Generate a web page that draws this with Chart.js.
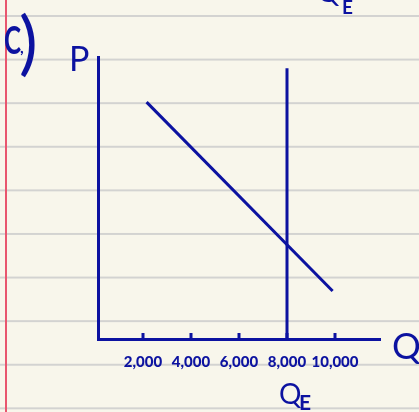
<!DOCTYPE html>
<html lang="en">
<head>
    <meta charset="UTF-8">
    <title>Q_E</title>
    <script src="https://cdn.jsdelivr.net/npm/chart.js"></script>
    <style>
        html, body {
            margin: 0;
            padding: 0;
            width: 419px;
            height: 412px;
            overflow: hidden;
        }
        body {
            background-color: #f8f6eb;
            /* red margin line + ruled lines of the notebook page */
            background-image:
                linear-gradient(to right, transparent 5px, #e8566e 5px, #e8566e 7px, transparent 7px),
                linear-gradient(to bottom, #d3d3d1 0, #d3d3d1 2px, transparent 2px);
            background-size: 100% 100%, 100% 43.6px;
            background-position: 0 0, 0 15px;
            background-repeat: no-repeat, repeat-y;
        }
        #chart {
            position: absolute;
            left: 0;
            top: 0;
        }
    </style>
</head>
<body>
<canvas id="chart" width="419" height="412"></canvas>

<script>
// tick values on the quantity axis
const qTicks = [2000, 4000, 6000, 8000, 10000];

// demand line (no price numbers on the axis, price read as 0-100)
const demandQ = [2150, 9900];
const demandP = [84, 17];

// equilibrium quantity, drawn as a vertical line
const qE = 8000;
const qELineP = [0, 96];

const blue = "#0c12a0";

// small tick marks sitting on top of the Q axis
const tickMarks = {
    id: "tickMarks",
    afterDatasetsDraw(chart) {
        const ctx = chart.ctx;
        const x = chart.scales.x;
        const bottom = chart.chartArea.bottom;
        ctx.save();
        ctx.strokeStyle = blue;
        ctx.lineWidth = 3;
        qTicks.forEach(v => {
            const px = x.getPixelForValue(v);
            ctx.beginPath();
            ctx.moveTo(px, bottom - 6);
            ctx.lineTo(px, bottom);
            ctx.stroke();
        });
        ctx.restore();
    }
};

// hand written labels round the graph
const labels = {
    id: "labels",
    afterDraw(chart) {
        const ctx = chart.ctx;
        const x = chart.scales.x;
        const area = chart.chartArea;
        const qEx = x.getPixelForValue(qE);
        ctx.save();
        ctx.fillStyle = blue;
        ctx.textBaseline = "alphabetic";
        ctx.textAlign = "left";

        // "C,)" squeezed like the hand writing
        ctx.save();
        ctx.translate(4, 54);
        ctx.scale(0.68, 1);
        ctx.font = "bold 38px Lato";
        ctx.fillText("C", 0, 0);
        ctx.restore();
        ctx.font = "bold 16px Lato";
        ctx.fillText(",", 20, 53);
        ctx.font = "70px Lato";
        ctx.fillText(")", 19, 67);

        ctx.font = "34px Lato";
        ctx.fillText("P", area.left - 29, 71);

        ctx.font = "36px Lato";
        ctx.fillText("Q", area.right + 12, 359);

        // Q_E under the axis
        ctx.font = "28px Lato";
        ctx.fillText("Q", qEx - 8, 404);
        ctx.font = "bold 21px Lato";
        ctx.fillText("E", qEx + 12, 410);

        // Q_E at the top, mostly cut off by the page edge
        ctx.font = "28px Lato";
        ctx.fillText("Q", qEx + 30, 2);
        ctx.font = "bold 19px Lato";
        ctx.fillText("E", qEx + 55, 14);
        ctx.restore();
    }
};

new Chart(document.getElementById("chart"), {
    type: "scatter",
    data: {
        datasets: [
            {
                label: "Demand",
                data: demandQ.map((q, i) => ({ x: q, y: demandP[i] })),
                showLine: true,
                borderColor: blue,
                borderWidth: 3,
                pointRadius: 0
            },
            {
                label: "Q_E",
                data: qELineP.map(p => ({ x: qE, y: p })),
                showLine: true,
                borderColor: blue,
                borderWidth: 3,
                pointRadius: 0
            }
        ]
    },
    options: {
        responsive: false,
        animation: false,
        layout: {
            padding: { left: 0, top: 57, right: 39, bottom: 0 }
        },
        plugins: {
            legend: { display: false },
            tooltip: { enabled: false }
        },
        scales: {
            x: {
                type: "linear",
                min: 125,
                max: 11875,
                afterBuildTicks: s => { s.ticks = qTicks.map(v => ({ value: v })); },
                afterFit: s => { s.height = 73; },
                grid: { display: false, drawTicks: false },
                border: { display: true, color: blue, width: 3 },
                ticks: {
                    color: blue,
                    padding: 14,
                    font: { family: "Lato", size: 15, weight: "900" },
                    callback: v => v.toLocaleString("en-US")
                }
            },
            y: {
                min: 0,
                max: 100,
                afterFit: s => { s.width = 98; },
                grid: { display: false, drawTicks: false },
                border: { display: true, color: blue, width: 3 },
                ticks: { display: false }
            }
        }
    },
    plugins: [tickMarks, labels]
});
</script>
</body>
</html>
